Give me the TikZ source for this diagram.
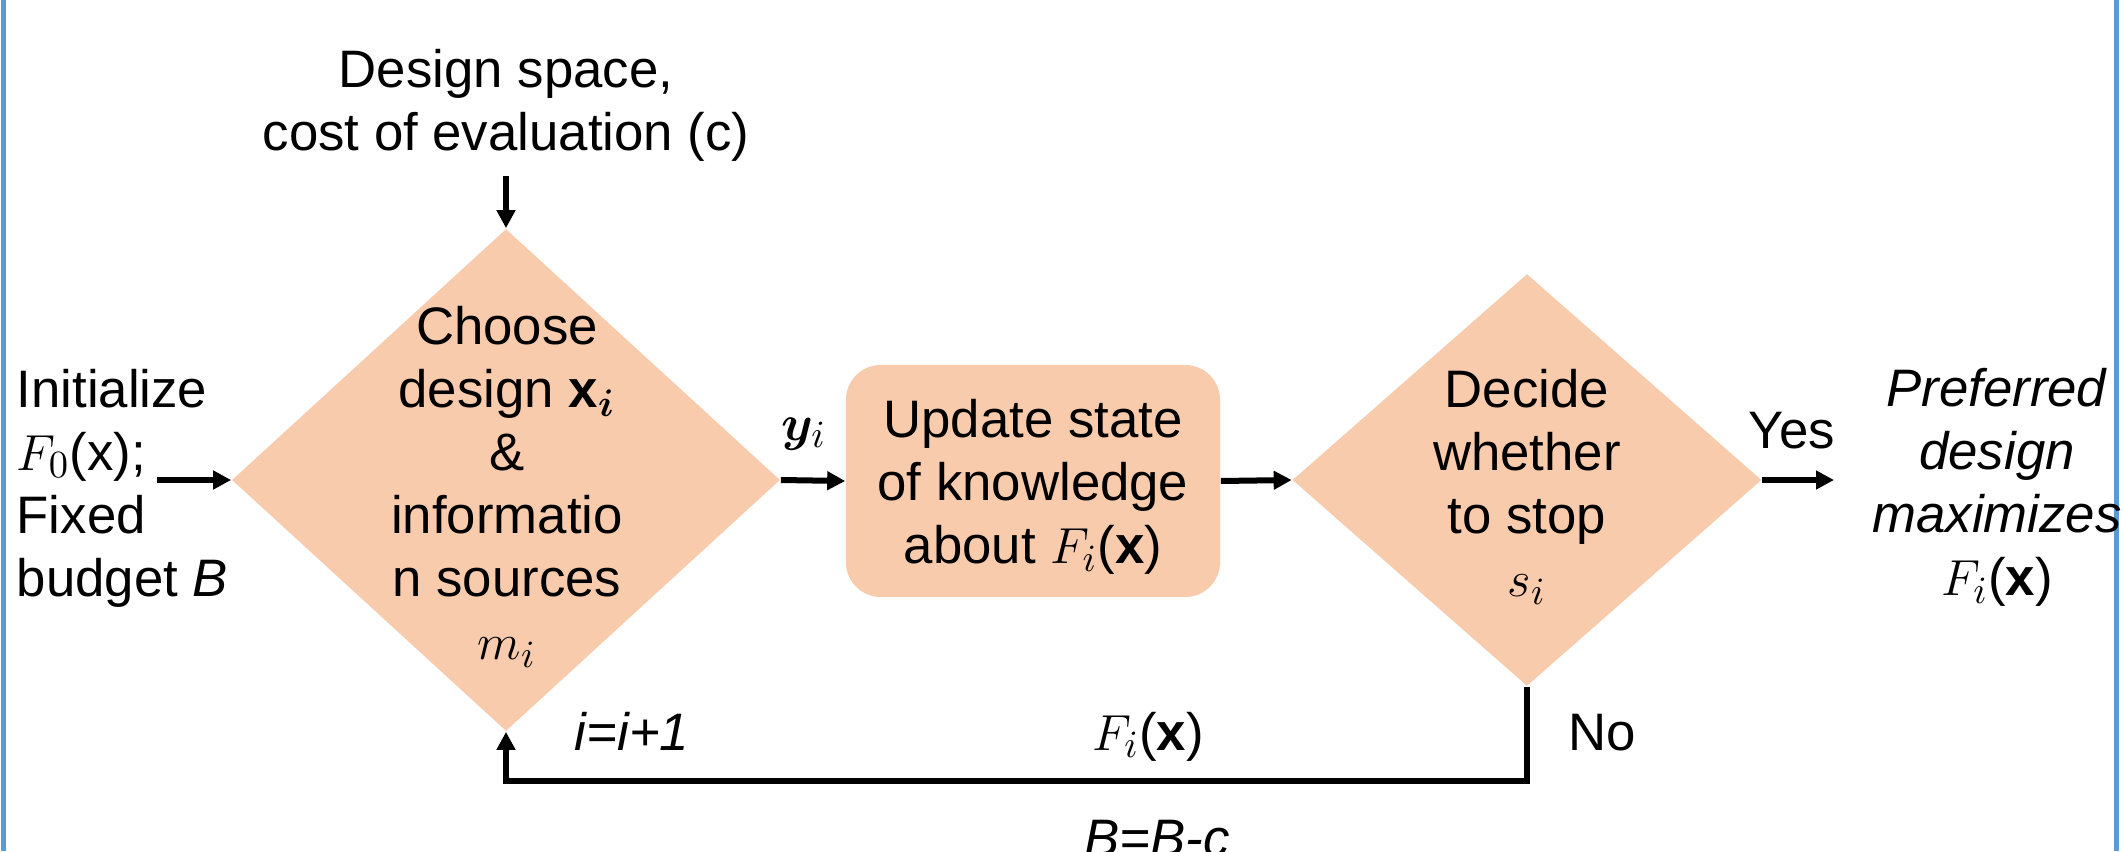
\documentclass[tikz,border=0pt]{standalone}
\usepackage{fontspec}
\setmainfont{Liberation Sans}
\usepackage{bm}
\usetikzlibrary{shapes.geometric,arrows.meta}
\definecolor{peach}{RGB}{248,203,173}
\definecolor{frameblue}{RGB}{91,155,213}
\begin{document}
\begin{tikzpicture}[x=0.01cm,y=-0.01cm,
  font=\fontsize{15}{17.9}\selectfont,
  decision/.style={diamond, fill=peach, inner sep=0pt},
  process/.style={rectangle, rounded corners=0.35cm, fill=peach, inner sep=0pt},
  txt/.style={align=center, inner sep=0pt},
  flow/.style={line width=0.06cm, -{Triangle[length=0.18cm,width=0.18cm]}}]
  \useasboundingbox (0,0) rectangle (2123,851);
  \draw[frameblue, line width=0.05cm] (3.5,0) -- (3.5,851);
  \draw[frameblue, line width=0.05cm] (2116,0) -- (2116,851);

  \node[decision, minimum width=5.48cm, minimum height=5.02cm] (choose) at (506,480) {};
  \node[process, minimum width=3.74cm, minimum height=2.32cm] (update) at (1033,481) {};
  \node[decision, minimum width=4.69cm, minimum height=4.12cm] (decide) at (1527,480) {};

  \node[txt] (choosetxt) at (507,487) {Choose\\design $\mathbf{x}_{\bm{i}}$\\\&\\informatio\\n sources\\$m_i$};
  \node[txt] (updatetxt) at (1033,487) {Update state\\of knowledge\\about $F_i$(\textbf{x})};
  \node[txt] (decidetxt) at (1527,487) {Decide\\whether\\to stop\\$s_i$};
  \node[txt] (designtxt) at (506,105) {Design space,\\cost of evaluation (c)};
  \node[txt, align=left, anchor=west] (inittxt) at (16,488) {Initialize\\$F_0$(x);\\Fixed\\budget \textit{B}};
  \node[txt] (preftxt) at (1997,487) {\textit{Preferred}\\\textit{design}\\\textit{maximizes}\\$F_i$(\textbf{x})};

  \coordinate (topin) at (506,176);
  \coordinate (initout) at (157,480);
  \coordinate (yesend) at (1834,480);
  \coordinate (fb) at (1527,781);

  \draw[flow] (topin) -- (choose.north);
  \draw[flow] (initout) -- (choose.west);
  \draw[flow] (choose.east) -- (update.west);
  \draw[flow] (update.east) -- (decide.west);
  \draw[flow] (decide.east) -- (yesend);
  \draw[flow] (decide.south) -- (fb) -| (choose.south);

  \node[anchor=base, inner sep=0pt] (ylab) at (804,440) {$\bm{y}_i$};
  \node[anchor=base, inner sep=0pt] (yeslab) at (1792,448) {Yes};
  \node[anchor=base, inner sep=0pt] (nolab) at (1602,750) {No};
  \node[anchor=base, inner sep=0pt] (itlab) at (632,750) {\textit{i=i+1}};
  \node[anchor=base, inner sep=0pt] (flab) at (1148,750) {$F_i$(\textbf{x})};
  \node[anchor=base, inner sep=0pt] (blab) at (1157,856) {\textit{B=B-c}};
\end{tikzpicture}
\end{document}
